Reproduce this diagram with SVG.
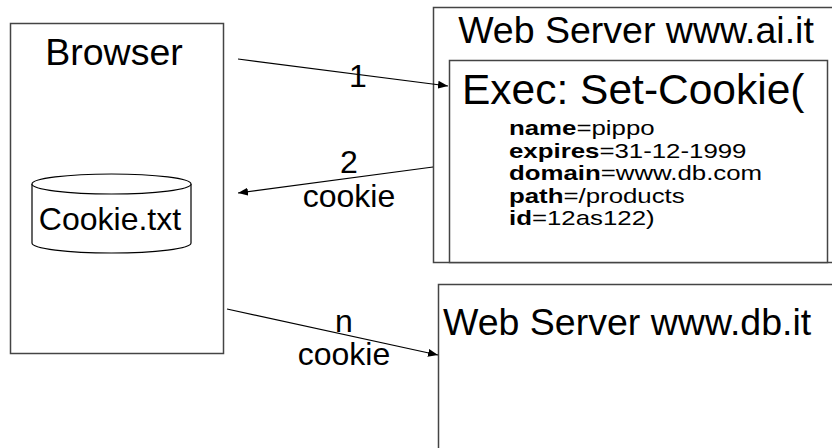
<svg xmlns="http://www.w3.org/2000/svg" width="832" height="448" viewBox="0 0 832 448">
<defs>
<marker id="ah" markerWidth="10" markerHeight="8" refX="10" refY="4" orient="auto" markerUnits="userSpaceOnUse">
<path d="M0,0 L10,4 L0,8 Z" fill="#000"/>
</marker>
<style>
text{font-family:"Liberation Sans",Arial,sans-serif;fill:#000}
.box{fill:#fff;stroke:#444;stroke-width:1.5}
.t37{font-size:37.5px}
.t42{font-size:42.5px}
.t32{font-size:32px}
.attr{font-size:21px}
.b{font-weight:bold}
.conn{stroke:#000;stroke-width:1.2;fill:none;marker-end:url(#ah)}
</style>
</defs>
<rect width="832" height="448" fill="#fff"/>
<g id="browser">
<rect class="box" x="10.5" y="23.5" width="213" height="330"/>
<text class="t37" x="114" y="65" text-anchor="middle">Browser</text>
</g>
<g id="cookiefile">
<path d="M32,184 V243 A79.5,10 0 0 0 191,243 V184" fill="#fff" stroke="#000" stroke-width="1.2"/>
<ellipse cx="111.5" cy="184" rx="79.5" ry="10" fill="#fff" stroke="#000" stroke-width="1.2"/>
<text class="t32" x="110" y="230" text-anchor="middle">Cookie.txt</text>
</g>
<g id="server-ai">
<rect class="box" x="433.5" y="7.5" width="420" height="255"/>
<text class="t37" x="636" y="43" text-anchor="middle">Web Server www.ai.it</text>
</g>
<g id="setcookie">
<rect class="box" x="449.5" y="60.5" width="378" height="202"/>
<text class="t42" x="462" y="104">Exec: Set-Cookie(</text>
<text class="attr" transform="translate(509,135) scale(1.23,1)"><tspan class="b">name</tspan>=pippo</text>
<text class="attr" transform="translate(509,157.5) scale(1.23,1)"><tspan class="b">expires</tspan>=31-12-1999</text>
<text class="attr" transform="translate(509,180) scale(1.23,1)"><tspan class="b">domain</tspan>=www.db.com</text>
<text class="attr" transform="translate(509,202.5) scale(1.23,1)"><tspan class="b">path</tspan>=/products</text>
<text class="attr" transform="translate(509,225) scale(1.23,1)"><tspan class="b">id</tspan>=12as122)</text>
</g>
<g id="server-db">
<rect class="box" x="438.5" y="284.5" width="420" height="200"/>
<text class="t37" x="443" y="335">Web Server www.db.it</text>
</g>
<g id="connectors">
<line class="conn" x1="238" y1="59" x2="448" y2="86"/>
<text class="t32" x="358" y="87" text-anchor="middle">1</text>
<line class="conn" x1="433" y1="167" x2="238" y2="193"/>
<text class="t32" x="349" y="173" text-anchor="middle">2</text>
<text class="t32" x="349" y="207" text-anchor="middle">cookie</text>
<line class="conn" x1="227" y1="309" x2="438" y2="355"/>
<text class="t32" x="344" y="332" text-anchor="middle">n</text>
<text class="t32" x="344" y="365" text-anchor="middle">cookie</text>
</g>
</svg>
